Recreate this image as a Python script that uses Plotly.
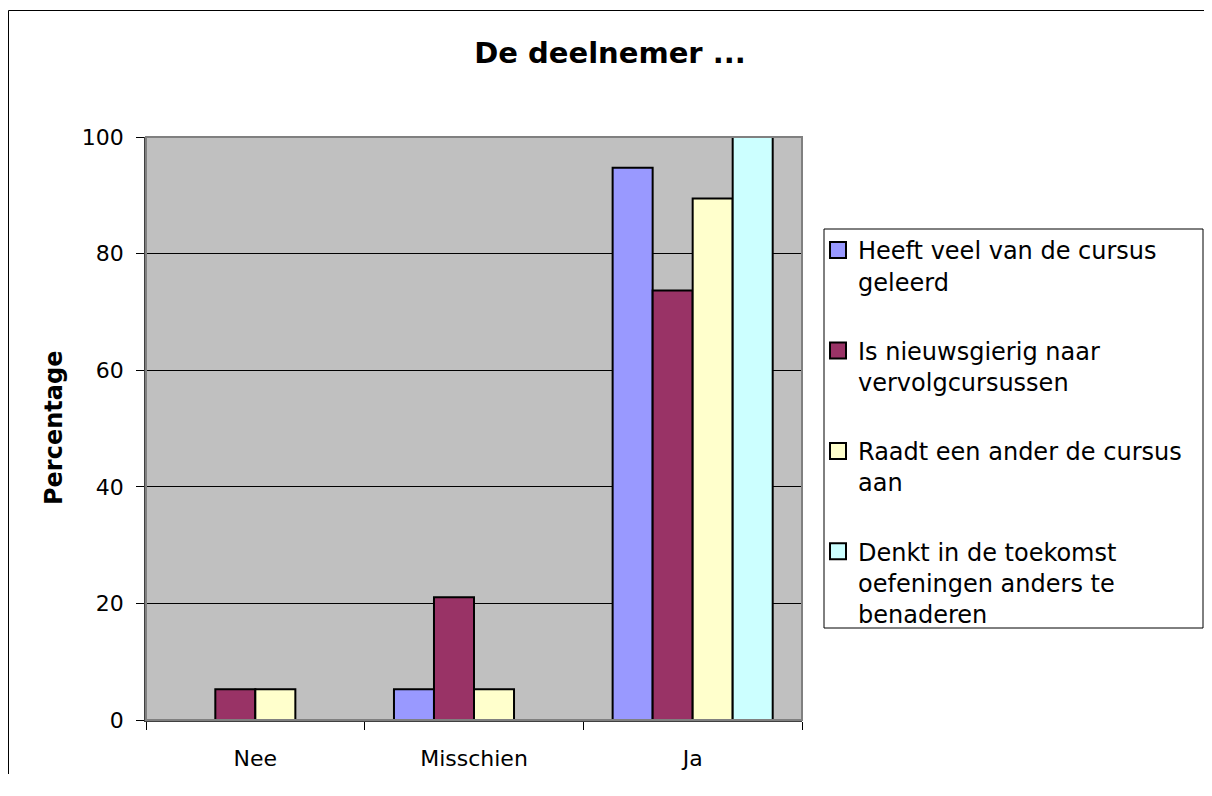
import plotly.graph_objects as go

# the page puts the figure 8px in from the top-left corner;
# keep the figure small enough that the page never scrolls
OFF = 8
W, H = 1196, 766
PLOT_L, PLOT_R, PLOT_T, PLOT_B = 146 - OFF, 802 - OFF, 137 - OFF, 720 - OFF

categories = ["Nee", "Misschien", "Ja"]
series_names = [
    "Heeft veel van de cursus<br>geleerd",
    "Is nieuwsgierig naar<br>vervolgcursussen",
    "Raadt een ander de cursus<br>aan",
    "Denkt in de toekomst<br>oefeningen anders te<br>benaderen",
]
geleerd = [0, 5.26, 94.74]
nieuwsgierig = [5.26, 21.05, 73.68]
raadt_aan = [5.26, 5.26, 89.47]
anders_benaderen = [0, 0, 100]
colors = ["#9999FF", "#993366", "#FFFFCC", "#CCFFFF"]

FONT = "Verdana, DejaVu Sans, sans-serif"


def px_x(p):
    # reference-image pixel -> paper fraction
    return (p - OFF - PLOT_L) / (PLOT_R - PLOT_L)


def px_y(p):
    return (PLOT_B - (p - OFF)) / (PLOT_B - PLOT_T)


fig = go.Figure()
for name, vals, col in zip(series_names,
                           [geleerd, nieuwsgierig, raadt_aan, anders_benaderen],
                           colors):
    fig.add_trace(go.Bar(
        x=categories, y=vals, name=name,
        marker=dict(color=col, line=dict(color="black", width=2)),
        showlegend=False,
    ))

# legend entries with bigger square swatches
for i, (name, col) in enumerate(zip(series_names, colors)):
    fig.add_trace(go.Scatter(
        x=[None], y=[None], mode="markers", name=name,
        legendgroup=f"g{i}",
        marker=dict(symbol="square", size=16, color=col,
                    line=dict(color="black", width=2)),
    ))

fig.update_layout(
    width=W, height=H,
    paper_bgcolor="white",
    plot_bgcolor="#C0C0C0",
    margin=dict(l=PLOT_L, r=W - PLOT_R, t=PLOT_T, b=H - PLOT_B, pad=0,
                autoexpand=False),
    font=dict(family=FONT, size=22, color="black"),
    barmode="group",
    bargap=0.268,
    bargroupgap=0,
    title=dict(
        text="<b>De deelnemer ...</b>",
        font=dict(family=FONT, size=29, color="black"),
        x=(610 - OFF) / W, xanchor="center",
        y=1 - (53 - OFF) / H, yanchor="middle", yref="container",
    ),
    legend=dict(
        x=px_x(818), xanchor="left",
        y=px_y(228), yanchor="top",
        bgcolor="rgba(0,0,0,0)",
        borderwidth=0,
        valign="top",
        tracegroupgap=35,
        font=dict(family=FONT, size=24, color="black"),
    ),
    showlegend=True,
)

fig.update_xaxes(
    showgrid=False, automargin=False,
    ticks="outside", ticklen=8, tickcolor="black",
    tickson="boundaries",
    showline=True, linecolor="#404040", linewidth=1.5,
    ticklabelstandoff=18,
    tickfont=dict(family=FONT, size=22),
)
fig.update_yaxes(
    range=[0, 100], dtick=20, automargin=False,
    showgrid=True, gridcolor="black", gridwidth=1,
    zeroline=False,
    ticks="outside", ticklen=8, tickcolor="black",
    showline=True, linecolor="#404040", linewidth=1.5,
    ticklabelstandoff=8,
    tickfont=dict(family=FONT, size=22),
)

# y-axis title
fig.add_annotation(
    text="<b>Percentage</b>", textangle=-90,
    xref="paper", yref="paper",
    x=px_x(54), y=px_y(428), xanchor="center", yanchor="middle",
    showarrow=False, font=dict(family=FONT, size=24, color="black"),
)

# plot-area border, legend box
fig.add_shape(type="rect", xref="paper", yref="paper",
              x0=0, x1=1, y0=0, y1=1,
              line=dict(color="#808080", width=2), layer="above")
fig.add_shape(type="rect", xref="paper", yref="paper",
              x0=px_x(824), x1=px_x(1203), y0=px_y(628), y1=px_y(229),
              line=dict(color="black", width=1))
# outer chart border: only its left and top edges fall inside the picture
fig.add_shape(type="line", xref="paper", yref="paper",
              x0=px_x(8.5), x1=px_x(8.5), y0=px_y(800), y1=px_y(10.5),
              line=dict(color="black", width=1))
fig.add_shape(type="line", xref="paper", yref="paper",
              x0=px_x(8.5), x1=px_x(1215), y0=px_y(10.5), y1=px_y(10.5),
              line=dict(color="black", width=1))

fig.write_html("out.html")
